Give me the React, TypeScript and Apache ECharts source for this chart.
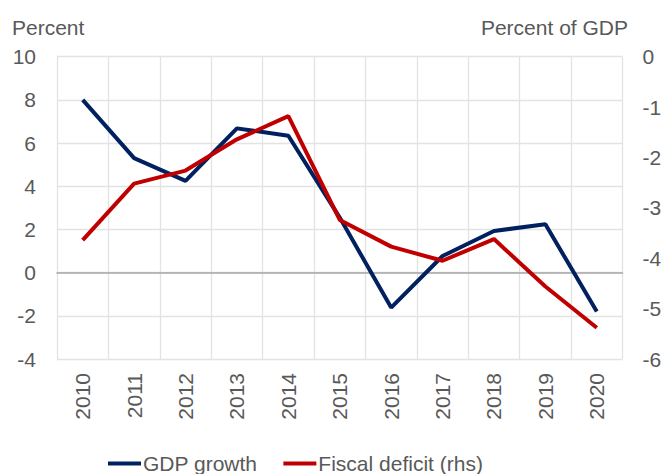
import React, { useEffect, useRef } from "react";
import * as echarts from "echarts";

const years = ["2010", "2011", "2012", "2013", "2014", "2015", "2016", "2017", "2018", "2019", "2020"];
const gdpGrowth = [8.0, 5.3, 4.25, 6.68, 6.34, 2.55, -1.62, 0.77, 1.93, 2.24, -1.8];
const fiscalDeficit = [-3.64, -2.52, -2.26, -1.64, -1.18, -3.24, -3.77, -4.05, -3.62, -4.56, -5.38];
const leftTitle = "Percent";
const rightTitle = "Percent of GDP";

const FONT = "'Liberation Sans', Arial, sans-serif";
const GREY = "#595959";

export default function App() {
  const ref = useRef<HTMLDivElement>(null);
  useEffect(() => {
    if (!ref.current) return;
    const chart = echarts.init(ref.current, undefined, { renderer: "svg" });
    const halfCats = years.flatMap((y) => [y + "a", y + "b"]);
    chart.setOption({
      animation: false,
      textStyle: { fontFamily: FONT },
      grid: { left: 57, right: 42.5, top: 56.7, bottom: 115, containLabel: false },
      legend: {
        left: 103,
        top: 448,
        itemWidth: 33,
        itemHeight: 4,
        itemGap: 26,
        icon: "rect",
        textStyle: { fontFamily: FONT, fontSize: 21, color: GREY, padding: [0, 0, 0, -3] },
        data: ["GDP growth", "Fiscal deficit (rhs)"],
      },
      graphic: [
        {
          type: "text",
          left: 12,
          top: 17,
          style: { text: leftTitle, font: `21px ${FONT}`, fill: GREY },
        },
        {
          type: "text",
          right: 37,
          top: 17,
          style: { text: rightTitle, font: `21px ${FONT}`, fill: GREY },
        },
      ],
      xAxis: [
        {
          type: "category",
          data: years,
          boundaryGap: true,
          axisLine: { show: true, onZero: true, lineStyle: { color: "#a6a6a6", width: 1.5 } },
          axisTick: { show: false },
          splitLine: { show: false },
          axisLabel: { rotate: 90, margin: 14, fontSize: 21, color: GREY, fontFamily: FONT },
        },
        {
          type: "category",
          data: halfCats,
          boundaryGap: true,
          position: "bottom",
          axisLine: { show: false },
          axisTick: { show: false },
          axisLabel: { show: false },
          splitLine: { show: true, lineStyle: { color: "#e3e3e3", width: 1.3 } },
        },
      ],
      yAxis: [
        {
          type: "value",
          min: -4,
          max: 10,
          interval: 2,
          axisLine: { show: false },
          axisTick: { show: false },
          axisLabel: { margin: 21, fontSize: 21, color: GREY, fontFamily: FONT },
          splitLine: { show: true, lineStyle: { color: "#e3e3e3", width: 1.3 } },
        },
        {
          type: "value",
          min: -6,
          max: 0,
          interval: 1,
          position: "right",
          axisLine: { show: false },
          axisTick: { show: false },
          axisLabel: { margin: 20, fontSize: 21, color: GREY, fontFamily: FONT },
          splitLine: { show: false },
        },
      ],
      series: [
        {
          name: "GDP growth",
          type: "line",
          data: gdpGrowth,
          xAxisIndex: 0,
          yAxisIndex: 0,
          symbol: "none",
          lineStyle: { color: "#002060", width: 4 },
          itemStyle: { color: "#002060" },
          z: 3,
        },
        {
          name: "Fiscal deficit (rhs)",
          type: "line",
          data: fiscalDeficit,
          xAxisIndex: 0,
          yAxisIndex: 1,
          symbol: "none",
          lineStyle: { color: "#c00000", width: 4 },
          itemStyle: { color: "#c00000" },
          z: 4,
        },
      ],
    });
    return () => chart.dispose();
  }, []);
  return <div ref={ref} style={{ width: 665, height: 474, position: "absolute", left: 0, top: 0 }} />;
}
